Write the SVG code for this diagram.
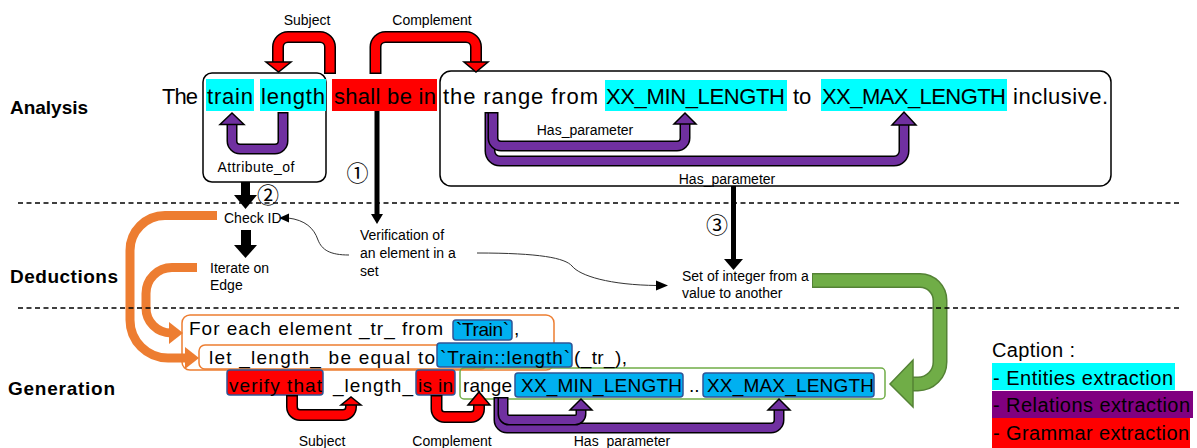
<svg xmlns="http://www.w3.org/2000/svg" width="1197" height="448" viewBox="0 0 1197 448">
<defs>
<style>
text{font-family:"Liberation Sans",Arial,sans-serif;fill:#000}
.sec{font-size:19px;font-weight:bold}
.big{font-size:22px}
.lbl{font-size:14px;text-anchor:middle}
.ded{font-size:14px}
.gen{font-size:19px}
.cap{font-size:20px}
.circ{font-family:"Noto Sans CJK JP","DejaVu Sans",sans-serif;font-size:22px;text-anchor:middle}
.dash{stroke:#000;stroke-width:1.5;stroke-dasharray:5 3.5;fill:none}
.box{fill:none;stroke:#000;stroke-width:1.5}
.rO{fill:none;stroke:#000;stroke-width:12}
.rI{fill:none;stroke:#f00;stroke-width:9}
.rH{fill:#f00;stroke:#000;stroke-width:1.5}
.pO{fill:none;stroke:#000;stroke-width:11}
.pI{fill:none;stroke:#7030A0;stroke-width:8}
.pH{fill:#7030A0;stroke:#000;stroke-width:1.5}
.or{fill:none;stroke:#ED7D31;stroke-width:9}
.orH{fill:#ED7D31}
.thin{fill:none;stroke:#333;stroke-width:1}
.hlB{fill:#00B0F0;stroke:#2F5597;stroke-width:1.5}
.hlR{fill:#f00;stroke:#2F5597;stroke-width:1.5}
.obox{fill:none;stroke:#ED7D31;stroke-width:1.5}
</style>
</defs>
<rect width="1197" height="448" fill="#fff"/>

<!-- section labels -->
<g id="sections">
<text class="sec" x="10" y="114" textLength="78">Analysis</text>
<text class="sec" x="10" y="283" textLength="108">Deductions</text>
<text class="sec" x="8" y="395" textLength="107">Generation</text>
</g>

<!-- analysis sentence -->
<g id="analysis">
<rect id="subject-box" class="box" x="203" y="73" width="123" height="109" rx="9"/>
<rect id="complement-box" class="box" x="440" y="71" width="671" height="115" rx="11"/>
<rect x="206" y="79" width="48" height="32" fill="#0ff"/>
<rect x="260" y="79" width="66" height="32" fill="#0ff"/>
<rect x="332" y="79" width="105" height="32" fill="#f00"/>
<rect x="605" y="80" width="182" height="31" fill="#0ff"/>
<rect x="821" y="79" width="186" height="32" fill="#0ff"/>
<text class="big" x="162" y="104" textLength="36">The</text>
<text class="big" x="207" y="104" textLength="46">train</text>
<text class="big" x="261" y="104" textLength="64">length</text>
<text class="big" x="334" y="104" textLength="102">shall be in</text>
<text class="big" x="443" y="104" textLength="155">the range from</text>
<text class="big" x="606" y="104" textLength="179">XX_MIN_LENGTH</text>
<text class="big" x="793" y="104">to</text>
<text class="big" x="822" y="104" textLength="184">XX_MAX_LENGTH</text>
<text class="big" x="1013" y="104" textLength="95">inclusive.</text>
</g>

<!-- deduction nodes -->
<g id="check-id"><text class="ded" x="224" y="223" font-size="13">Check ID</text></g>
<g id="iterate"><text class="ded" x="210" y="273">Iterate on</text><text class="ded" x="210" y="290">Edge</text></g>
<g id="verification"><text class="ded" x="360" y="240">Verification of</text><text class="ded" x="360" y="258">an element in a</text><text class="ded" x="360" y="276">set</text></g>
<g id="set-integer"><text class="ded" x="682" y="281">Set of integer from a</text><text class="ded" x="682" y="298">value to another</text></g>

<!-- generation -->
<g id="generation">
<rect class="obox" x="182" y="315" width="372" height="55" rx="8"/>
<rect class="obox" x="199" y="345" width="288" height="24" rx="6"/>
<rect x="460" y="368" width="425" height="31" rx="4" fill="none" stroke="#70AD47" stroke-width="1.5"/>
<rect class="hlB" x="453" y="320" width="59" height="20" rx="3"/>
<rect class="hlB" x="437" y="343" width="135" height="24" rx="3"/>
<rect class="hlR" x="227" y="370" width="96" height="25" rx="3"/>
<rect class="hlR" x="416" y="370" width="39" height="25" rx="3"/>
<rect class="hlB" x="515" y="373" width="168" height="24" rx="3"/>
<rect class="hlB" x="703" y="373" width="171" height="24" rx="3"/>
<text class="gen" x="189" y="335" textLength="254">For each element _tr_ from</text>
<text class="gen" x="456" y="336" textLength="53">`Train`</text>
<text class="gen" x="514" y="335">,</text>
<text class="gen" x="209" y="364" textLength="226">let _length_ be equal to</text>
<text class="gen" x="440" y="364" textLength="130">`Train::length`</text>
<text class="gen" x="574" y="364" textLength="53">(_tr_),</text>
<text class="gen" x="229" y="392" textLength="93">verify that</text>
<text class="gen" x="333" y="392" textLength="80">_length_</text>
<text class="gen" x="418" y="392" textLength="35">is in</text>
<text class="gen" x="463" y="392" textLength="49">range</text>
<text class="gen" x="521" y="392" textLength="161">XX_MIN_LENGTH</text>
<text class="gen" x="689" y="392">..</text>
<text class="gen" x="707" y="392" textLength="167">XX_MAX_LENGTH</text>
</g>

<!-- caption -->
<g id="caption">
<text class="cap" x="992" y="357" textLength="83">Caption :</text>
<rect x="992" y="363" width="183" height="27" fill="#0ff"/>
<rect x="992" y="391" width="201" height="27" fill="#800080"/>
<rect x="992" y="418" width="198" height="30" fill="#f00"/>
<text class="cap" x="993" y="385" textLength="180">- Entities extraction</text>
<text class="cap" x="993" y="412" textLength="197">- Relations extraction</text>
<text class="cap" x="993" y="440" textLength="196">- Grammar extraction</text>
</g>

<!-- connectors -->
<g id="connectors">
<!-- top red: Subject -->
<path class="rO" d="M330,74 V47 A10,10 0 0 0 320,37 H288 A10,10 0 0 0 278,47 V63"/>
<path class="rI" d="M330,72.5 V47 A10,10 0 0 0 320,37 H288 A10,10 0 0 0 278,47 V63"/>
<polygon class="rH" points="266,62 291,62 278.5,72"/>
<!-- top red: Complement -->
<path class="rO" d="M375.5,74 V47 A10,10 0 0 1 385.5,37 H466 A10,10 0 0 1 476,47 V63"/>
<path class="rI" d="M375.5,72.5 V47 A10,10 0 0 1 385.5,37 H466 A10,10 0 0 1 476,47 V63"/>
<polygon class="rH" points="464,62 488,62 476,72"/>
<text class="lbl" x="307" y="25">Subject</text>
<text class="lbl" x="432" y="25">Complement</text>

<!-- Attribute_of -->
<path class="pO" d="M283,112 V141 A8,8 0 0 1 275,149 H240 A8,8 0 0 1 232,141 V124"/>
<path class="pI" d="M283,113.5 V141 A8,8 0 0 1 275,149 H240 A8,8 0 0 1 232,141 V124"/>
<polygon class="pH" points="220,124.5 244,124.5 232,113"/>
<text class="lbl" x="256" y="172" textLength="77">Attribute_of</text>

<!-- Has_parameter top -->
<path class="pO" d="M490,112 V151 A10,10 0 0 0 500,161 H894 A10,10 0 0 0 904,151 V125"/>
<path class="pI" d="M490,113.5 V151 A10,10 0 0 0 500,161 H894 A10,10 0 0 0 904,151 V125"/>
<polygon class="pH" points="892,125 916,125 904,112"/>
<path class="pO" d="M493,112 V138 A8,8 0 0 0 501,146 H677 A8,8 0 0 0 685,138 V123"/>
<path class="pI" d="M493,113.5 V138 A8,8 0 0 0 501,146 H677 A8,8 0 0 0 685,138 V123"/>
<polygon class="pH" points="674,124 696,124 685,113"/>
<text class="lbl" x="585" y="135">Has_parameter</text>
<text class="lbl" x="727" y="184">Has_parameter</text>

<!-- black arrows -->
<rect x="374.5" y="111" width="5" height="104" fill="#000"/>
<polygon points="371,214 383,214 377,224" fill="#000"/>
<text class="circ" x="357.5" y="181">①</text>
<rect x="241" y="182" width="9" height="14" fill="#000"/>
<polygon points="234,195 257,195 245.5,209" fill="#000"/>
<text class="circ" x="268" y="203">②</text>
<rect x="241" y="230" width="10" height="16" fill="#000"/>
<polygon points="234,245 257,245 245.5,258" fill="#000"/>
<rect x="731" y="186" width="5" height="74" fill="#000"/>
<polygon points="724,259 743,259 733.5,270" fill="#000"/>
<text class="circ" x="717" y="233">③</text>

<!-- thin curved arrows -->
<path class="thin" d="M349,255 C330,255 322,250 318,240 C314,228 305,220 288,218"/>
<polygon points="279,218 289,213.5 289,222.5" fill="#000"/>
<path class="thin" d="M477,253 C540,253 565,258 572,266 C580,276 610,285 657,285.5"/>
<polygon points="668,285.5 656,280.5 656,290.5" fill="#000"/>

<!-- orange arrows -->
<path class="or" d="M217,215.5 H165 A35,35 0 0 0 130,250.5 V320 A38,38 0 0 0 168,358 H187"/>
<polygon class="orH" points="185,347 185,369 199,358"/>
<path class="or" d="M197,267.5 H172 A26,26 0 0 0 146,293.5 V308 A25,25 0 0 0 171,333 H171"/>
<polygon class="orH" points="169,322 169,344 183,333"/>

<!-- green arrow -->
<path d="M812,280.5 H920 A20,20 0 0 1 940,300.5 V362 A22,22 0 0 1 918,384 H911" fill="none" stroke="#548235" stroke-width="15"/>
<path d="M813,280.5 H920 A20,20 0 0 1 940,300.5 V362 A22,22 0 0 1 918,384 H911" fill="none" stroke="#70AD47" stroke-width="12"/>
<polygon points="913,360 913,407 890,384" fill="#70AD47" stroke="#548235" stroke-width="1.5"/>

<!-- bottom red Subject -->
<path class="rO" d="M292,395 V407 A8,8 0 0 0 300,415 H343 A8,8 0 0 0 351,407 V405"/>
<path class="rI" d="M292,396.5 V407 A8,8 0 0 0 300,415 H343 A8,8 0 0 0 351,407 V405"/>
<polygon class="rH" points="341,405 361,405 351,397"/>
<!-- bottom red Complement -->
<path class="rO" d="M436.5,395 V409 A8,8 0 0 0 444.5,417 H471 A8,8 0 0 0 479,409 V405"/>
<path class="rI" d="M436.5,396.5 V409 A8,8 0 0 0 444.5,417 H471 A8,8 0 0 0 479,409 V405"/>
<polygon class="rH" points="468,405 490,405 479,392"/>
<!-- bottom purple -->
<path class="pO" d="M499,397 V420 A8,8 0 0 0 507,428 H771 A8,8 0 0 0 779,420 V410"/>
<path class="pI" d="M499,398.5 V420 A8,8 0 0 0 507,428 H771 A8,8 0 0 0 779,420 V410"/>
<polygon class="pH" points="768,410 790,410 779,399"/>
<path class="pO" d="M503,397 V414 A6,6 0 0 0 509,420 H575 A6,6 0 0 0 581,414 V410"/>
<path class="pI" d="M503,398.5 V414 A6,6 0 0 0 509,420 H575 A6,6 0 0 0 581,414 V410"/>
<polygon class="pH" points="570,410 592,410 581,399"/>
<text class="lbl" x="322" y="446">Subject</text>
<text class="lbl" x="452" y="446">Complement</text>
<text class="lbl" x="622" y="446">Has_parameter</text>

<!-- dashed separators -->
<line class="dash" x1="18" y1="203" x2="1180" y2="203"/>
<line class="dash" x1="18" y1="308" x2="1180" y2="308"/>
</g>
</svg>
